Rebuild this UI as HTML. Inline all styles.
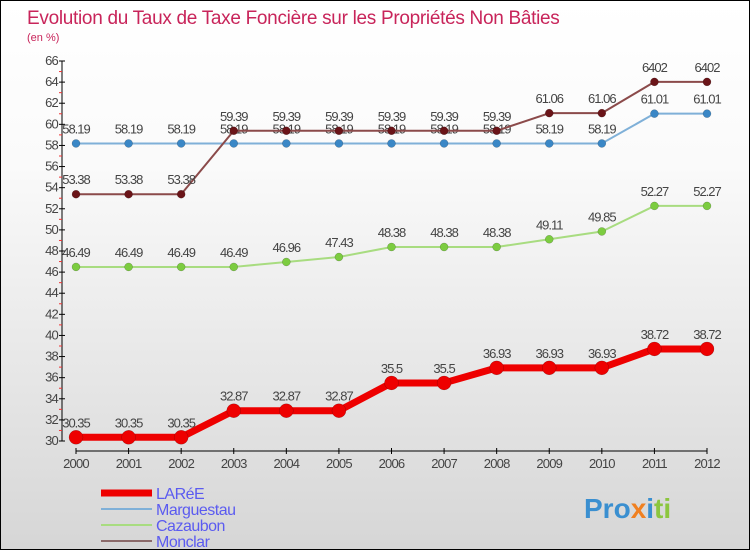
<!DOCTYPE html>
<html><head><meta charset="utf-8"><style>
body{margin:0}
#c{width:750px;height:550px;position:relative;box-sizing:border-box;border:1px solid #000;background:linear-gradient(#fff,#fafafa 30%,#d6d6d6);font-family:"Liberation Sans",sans-serif;overflow:hidden}
svg text{font-family:"Liberation Sans",sans-serif}
</style></head><body>
<div id="c">
<svg id="s" width="750" height="550">
<text x="26" y="23" font-size="19" fill="#c8245a" letter-spacing="-0.3">Evolution du Taux de Taxe Foncière sur les Propriétés Non Bâties</text>
<text x="26" y="40" font-size="11" fill="#c8245a">(en %)</text>
<text x="583" y="517" font-size="28" font-weight="bold"><tspan fill="#3a8fd0">Pro</tspan><tspan fill="#f08020">x</tspan><tspan fill="#3a8fd0">i</tspan><tspan fill="#8cc63f">ti</tspan></text>
</svg>
</div>
<script>
const years=[2000,2001,2002,2003,2004,2005,2006,2007,2008,2009,2010,2011,2012];
const laree=[30.35,30.35,30.35,32.87,32.87,32.87,35.5,35.5,36.93,36.93,36.93,38.72,38.72];
const marguestau=[58.19,58.19,58.19,58.19,58.19,58.19,58.19,58.19,58.19,58.19,58.19,61.01,61.01];
const cazaubon=[46.49,46.49,46.49,46.49,46.96,47.43,48.38,48.38,48.38,49.11,49.85,52.27,52.27];
const monclar=[53.38,53.38,53.38,59.39,59.39,59.39,59.39,59.39,59.39,61.06,61.06,64.02,64.02];
const yTicks=[30,32,34,36,38,40,42,44,46,48,50,52,54,56,58,60,62,64,66];
const NS='http://www.w3.org/2000/svg';
const svg=document.getElementById('s');
const X=i=>75+i*(706-75)/(years.length-1);
const Y=v=>440-(v-30)*(380/36);
function mk(t,a,p){const e=document.createElementNS(NS,t);for(const k in a)e.setAttribute(k,a[k]);(p||svg).appendChild(e);return e;}
function fmt(v){let s=String(v);if(s==='64.02')return '6402';return s;}
const ax=mk('g',{});


mk('line',{x1:61,y1:60,x2:61,y2:440,stroke:'#000'},ax);
mk('line',{x1:75,y1:450,x2:706,y2:450,stroke:'#000'},ax);
yTicks.forEach(v=>{
 mk('line',{x1:58,y1:Y(v),x2:64,y2:Y(v),stroke:'#000'},ax);
 if(v<66) mk('line',{x1:58,y1:Y(v+1),x2:61,y2:Y(v+1),stroke:'#e33'},ax);
 const t=mk('text',{x:57,y:Y(v)+4,'font-size':13,fill:'#444','text-anchor':'end','letter-spacing':'-0.8'},ax);
 t.textContent=v;
 
 
});
years.forEach((yr,i)=>{
 mk('line',{x1:X(i),y1:447,x2:X(i),y2:453,stroke:'#000'},ax);
 const t=mk('text',{x:X(i),y:467,'font-size':13,fill:'#444','text-anchor':'middle','letter-spacing':'-0.8'},ax);
 t.textContent=yr;
 
 
});
function series(data,color,dot,w,r,name){
 const g=mk('g',{});
 
 
 mk('polyline',{points:data.map((v,i)=>X(i)+','+Y(v)).join(' '),fill:'none',stroke:color,'stroke-width':w,'stroke-linejoin':'round'},g);
 data.forEach((v,i)=>{
  const c=mk('circle',{cx:X(i),cy:Y(v),r:r,fill:dot,stroke:'rgba(0,0,0,0.3)','stroke-width':0.5},g);
  
  
  const t=mk('text',{x:X(i),y:Y(v)-10,'font-size':13,fill:'#444','text-anchor':'middle','letter-spacing':'-1'},g);
  t.textContent=fmt(v);
  
  
 });
}
series(marguestau,'#7fb0d8','#3a87c6',2,4,'marguestau');
series(cazaubon,'#a8dc80','#7ccc40',2,4,'cazaubon');
series(monclar,'#8b4a4a','#6a1418',2,4,'monclar');
series(laree,'#ee0000','#ee0000',7,7,'laree');
const lg=mk('g',{});


[['LARéE','#ee0000',7],['Marguestau','#7fb0d8',2],['Cazaubon','#a8dc80',2],['Monclar','#8b6a6a',2]].forEach((d,i)=>{
 const y=492+i*16;
 mk('line',{x1:100,y1:y,x2:151,y2:y,stroke:d[1],'stroke-width':d[2]},lg);
 const t=mk('text',{x:155,y:y+6,'font-size':16,fill:'#5b5bf0','letter-spacing':'-0.5'},lg);
 t.textContent=d[0];
 
 
});
</script>
</body></html>
